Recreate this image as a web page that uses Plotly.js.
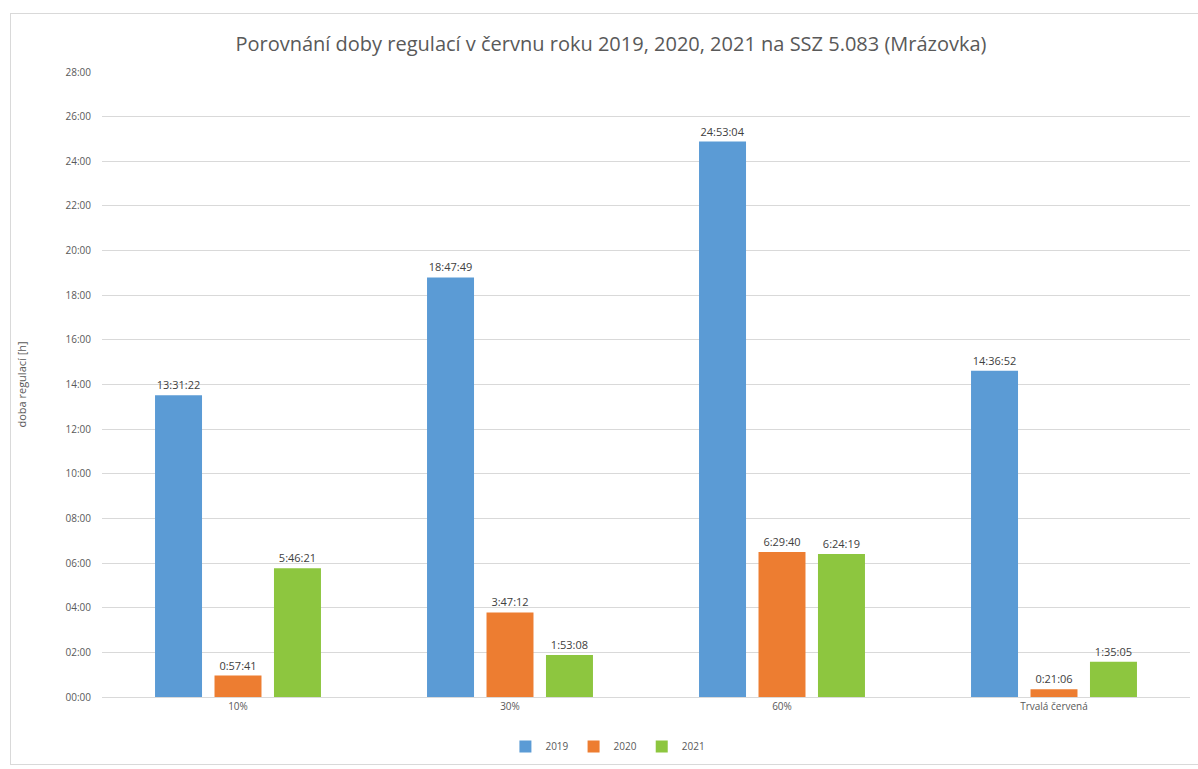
<!DOCTYPE html>
<html>
<head>
<meta charset="utf-8">
<script src="https://cdn.plot.ly/plotly-3.0.1.min.js"></script>
<style>
html,body{margin:0;padding:0;background:#fff;}
#frame{position:absolute;left:10px;top:13px;width:1200px;height:752px;border:1px solid #d9d9d9;box-sizing:border-box;}
#chart{position:absolute;left:0;top:0;width:1198px;height:769px;}
</style>
</head>
<body>
<div id="frame"></div>
<div id="chart"></div>
<script>
const categories = ["10%", "30%", "60%", "Trvalá červená"];
const series2019 = ["13:31:22", "18:47:49", "24:53:04", "14:36:52"];
const series2020 = ["0:57:41", "3:47:12", "6:29:40", "0:21:06"];
const series2021 = ["5:46:21", "1:53:08", "6:24:19", "1:35:05"];
const seriesNames = ["2019", "2020", "2021"];
const tickHours = [0,2,4,6,8,10,12,14,16,18,20,22,24,26,28];
const tickLabels = ["00:00","02:00","04:00","06:00","08:00","10:00","12:00","14:00","16:00","18:00","20:00","22:00","24:00","26:00","28:00"];

function toHours(s){const p=s.split(":").map(Number);return p[0]+p[1]/60+p[2]/3600;}

const colors = ["#5b9bd5", "#ed7d31", "#8dc63f"];
const all = [series2019, series2020, series2021];
const traces = all.map((s,i)=>({
  type:"bar",
  name:seriesNames[i],
  x:categories,
  y:s.map(toHours),
  text:s,
  textposition:"outside",
  cliponaxis:false,
  textfont:{family:"Open Sans, sans-serif",size:11,color:"#404040"},
  marker:{color:colors[i]},
  hoverinfo:"x+text"
}));

const layout = {
  width:1198,height:769,
  paper_bgcolor:"rgba(0,0,0,0)",plot_bgcolor:"rgba(0,0,0,0)",
  margin:{l:102,r:8,t:72,b:65},
  barmode:"group",bargap:0.344,bargroupgap:0.21,
  title:{text:"Porovnání doby regulací v červnu roku 2019, 2020, 2021 na SSZ 5.083 (Mrázovka)",
    font:{family:"Open Sans, sans-serif",size:20,color:"#595959"},
    x:0.51,xanchor:"center",y:1-44/769,yref:"container",yanchor:"middle"},
  xaxis:{type:"category",showgrid:false,showline:true,linecolor:"#d9d9d9",ticks:"",
    tickfont:{family:"Open Sans, sans-serif",size:10,color:"#595959"}},
  yaxis:{range:[0,28],tickvals:tickHours,ticktext:tickLabels,gridcolor:"#d9d9d9",zeroline:false,
    ticklabelstandoff:10,
    tickfont:{family:"Open Sans, sans-serif",size:10,color:"#595959"},
    title:{text:"doba regulací [h]",font:{family:"Open Sans, sans-serif",size:11,color:"#595959"},standoff:36}},
  legend:{orientation:"h",x:0.465,xanchor:"center",y:-50/632,yanchor:"middle",
    font:{family:"Open Sans, sans-serif",size:10,color:"#595959"},itemwidth:30},
  showlegend:true
};
Plotly.newPlot("chart",traces,layout,{displayModeBar:false});
</script>
</body>
</html>
